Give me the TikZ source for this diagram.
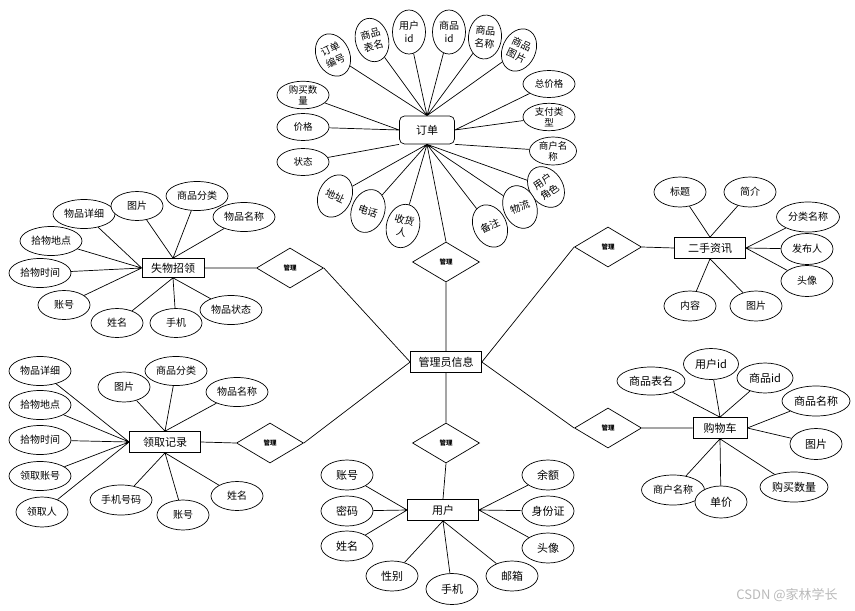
\documentclass[tikz,border=0pt]{standalone}
\usepackage{fontspec}
\setmainfont{Noto Sans CJK SC}
\usetikzlibrary{shapes.geometric}

\begin{document}
\begin{tikzpicture}[x=1pt,y=-1pt,line width=0.7pt,
  ent/.style={draw,rectangle,minimum width=71pt,minimum height=21pt,inner sep=0pt,fill=white,font=\fontsize{11}{13}\selectfont},
  attr/.style={draw,ellipse,minimum width=62pt,minimum height=29pt,inner sep=0pt,fill=white,font=\fontsize{10}{12}\selectfont},
  attrsm/.style={attr,minimum width=52pt},
  attrbig/.style={attr,minimum width=52pt,minimum height=30pt,font=\fontsize{11}{13}\selectfont},
  attrord/.style={attr,minimum width=52pt,minimum height=27pt,align=center,font=\fontsize{9.5}{11}\selectfont},
  attrrot/.style={attr,minimum width=33pt,minimum height=44pt,align=center,font=\fontsize{10}{12.5}\selectfont},
  rel/.style={draw,diamond,minimum width=67pt,minimum height=40pt,inner sep=0pt,fill=white,font=\fontsize{6.5}{7}\selectfont\bfseries}]
\useasboundingbox (0,0) rectangle (855,611);

% entities
\node[ent,rounded corners=5pt,minimum width=55pt,minimum height=28pt] (dd) at (427,130) {订单};
\node[ent] (gly) at (446,362) {管理员信息};
\node[ent] (yh) at (443,510) {用户};
\node[ent,minimum width=62pt,minimum height=19pt] (sw) at (173,268) {失物招领};
\node[ent] (lq) at (165,442) {领取记录};
\node[ent] (es) at (710,248) {二手资讯};
\node[ent,minimum width=54pt] (gw) at (720,428) {购物车};

% relations
\node[rel] (m1) at (446,262) {管理};
\node[rel] (m2) at (290,268) {管理};
\node[rel] (m3) at (270,443) {管理};
\node[rel] (m4) at (608,247) {管理};
\node[rel] (m5) at (608,428) {管理};
\node[rel] (m6) at (446,443) {管理};

\draw (dd.south) -- (m1.north) (m1.south) -- (gly.north);
\draw (gly.south) -- (m6.north) (m6.south) -- (yh.north);
\draw (sw.east) -- (m2.west) (m2.east) -- (gly.west);
\draw (lq.east) -- (m3.west) (m3.east) -- (gly.west);
\draw (gly.east) -- (m4.west) (m4.east) -- (es.west);
\draw (gly.east) -- (m5.west) (m5.east) -- (gw.west);

% 订单
\node[attrrot,rotate=25] (dd1) at (333,55) {订单\\编号};
\node[attrrot,rotate=15] (dd2) at (372,40) {商品\\表名};
\node[attrrot] (dd3) at (409,32) {用户\\id};
\node[attrrot] (dd4) at (449,32) {商品\\id};
\node[attrrot,rotate=-5] (dd5) at (485,37) {商品\\名称};
\node[attrrot,rotate=-25] (dd6) at (519,50) {商品\\图片};
\node[attrord] (dd7) at (549,84) {总价格};
\node[attrord] (dd8) at (549,117) {支付类\\型};
\node[attrord,minimum width=47pt] (dd9) at (553,151) {商户名\\称};
\node[attrrot,rotate=35] (dd10) at (546,187) {用户\\角色};
\node[attrrot,rotate=22] (dd11) at (520,207) {物流};
\node[attrrot,rotate=25] (dd12) at (490,226) {备注};
\node[attrrot,rotate=-15] (dd13) at (403,226) {收货\\人};
\node[attrrot,rotate=-20] (dd14) at (368,211) {电话};
\node[attrrot,rotate=-25] (dd15) at (335,196) {地址};
\node[attrord] (dd16) at (303,162) {状态};
\node[attrord] (dd17) at (303,127) {价格};
\node[attrord] (dd18) at (303,95) {购买数\\量};

\draw (dd1) -- (dd.north) (dd2) -- (dd.north) (dd3) -- (dd.north)
      (dd4) -- (dd.north) (dd5) -- (dd.north) (dd6) -- (dd.north);
\draw (dd7) -- (dd.east) (dd8) -- (dd.east) (dd9) -- (dd.south east);
\draw (dd10) -- (dd.south) (dd11) -- (dd.south) (dd12) -- (dd.south)
      (dd13) -- (dd.south) (dd14) -- (dd.south) (dd15) -- (dd.south);
\draw (dd16) -- (dd.south west) (dd17) -- (dd.west) (dd18) -- (dd.west);

% 失物招领
\node[attr] (sw1) at (84,214) {物品详细};
\node[attrsm] (sw2) at (137,206) {图片};
\node[attr] (sw3) at (197,196) {商品分类};
\node[attr] (sw4) at (244,217) {物品名称};
\node[attr] (sw5) at (51,241) {拾物地点};
\node[attr] (sw6) at (40,273) {拾物时间};
\node[attrsm] (sw7) at (64,305) {账号};
\node[attrsm] (sw8) at (117,323) {姓名};
\node[attrsm] (sw9) at (176,323) {手机};
\node[attr] (sw10) at (231,310) {物品状态};

\draw (sw2) -- (sw.north) (sw3) -- (sw.north) (sw4) -- (sw.north);
\draw (sw1) -- (sw.west) (sw5) -- (sw.west) (sw6) -- (sw.west) (sw7) -- (sw.west);
\draw (sw8) -- (sw.south) (sw9) -- (sw.south) (sw10) -- (sw.south);

% 领取记录
\node[attr] (lq1) at (40,371) {物品详细};
\node[attr] (lq2) at (40,405) {拾物地点};
\node[attr] (lq3) at (40,440) {拾物时间};
\node[attr] (lq4) at (40,476) {领取账号};
\node[attrsm,minimum height=30pt] (lq5) at (42,512) {领取人};
\node[attrsm,minimum height=30pt] (lq6) at (124,387) {图片};
\node[attr] (lq7) at (176,371) {商品分类};
\node[attr] (lq8) at (237,392) {物品名称};
\node[attr,minimum height=30pt] (lq9) at (121,500) {手机号码};
\node[attrsm,minimum height=30pt] (lq10) at (183,515) {账号};
\node[attrsm] (lq11) at (237,496) {姓名};

\draw (lq1) -- (lq.west) (lq2) -- (lq.west) (lq3) -- (lq.west)
      (lq4) -- (lq.west) (lq5) -- (lq.west);
\draw (lq6) -- (lq.north) (lq7) -- (lq.north) (lq8) -- (lq.north);
\draw (lq9) -- (lq.south) (lq10) -- (lq.south) (lq11) -- (lq.south);

% 二手资讯
\node[attrsm,minimum height=30pt] (es1) at (680,192) {标题};
\node[attrsm,minimum height=30pt] (es2) at (750,192) {简介};
\node[attr,minimum width=63pt,minimum height=30pt] (es3) at (808,217) {分类名称};
\node[attrsm,minimum height=31pt] (es4) at (807,249) {发布人};
\node[attrsm,minimum height=31pt] (es5) at (807,281) {头像};
\node[attrsm,minimum height=30pt] (es6) at (690,306) {内容};
\node[attrsm,minimum height=30pt] (es7) at (756,306) {图片};

\draw (es1) -- (es.north) (es2) -- (es.north);
\draw (es3) -- (es.east) (es4) -- (es.east) (es5) -- (es.east);
\draw (es6) -- (es.south) (es7) -- (es.south);

% 购物车
\node[attrbig,minimum width=68pt,minimum height=28pt] (gw1) at (651,381) {商品表名};
\node[attrbig,minimum width=55pt,minimum height=31pt] (gw2) at (711,364) {用户id};
\node[attrbig,minimum width=56pt] (gw3) at (765,378) {商品id};
\node[attrbig,minimum width=68pt] (gw4) at (816,401) {商品名称};
\node[attrbig,minimum height=31pt] (gw5) at (816,444) {图片};
\node[attrbig,minimum width=68pt] (gw6) at (794,487) {购买数量};
\node[attr,minimum width=63pt,minimum height=30pt] (gw7) at (673,490) {商户名称};
\node[attrbig,minimum height=32pt] (gw8) at (721,502) {单价};

\draw (gw1) -- (gw.north) (gw2) -- (gw.north) (gw3) -- (gw.north);
\draw (gw4) -- (gw.east) (gw5) -- (gw.east);
\draw (gw6) -- (gw.south) (gw7) -- (gw.south) (gw8) -- (gw.south);

% 用户
\node[attrbig] (yh1) at (347,475) {账号};
\node[attrbig] (yh2) at (347,511) {密码};
\node[attrbig] (yh3) at (347,546) {姓名};
\node[attrbig] (yh4) at (392,576) {性别};
\node[attrbig,minimum height=31pt] (yh5) at (452,589) {手机};
\node[attrbig] (yh6) at (512,576) {邮箱};
\node[attrbig] (yh7) at (548,475) {余额};
\node[attrbig] (yh8) at (548,511) {身份证};
\node[attrbig] (yh9) at (548,548) {头像};

\draw (yh1) -- (yh.west) (yh2) -- (yh.west) (yh3) -- (yh.west);
\draw (yh4) -- (yh.south) (yh5) -- (yh.south) (yh6) -- (yh.south);
\draw (yh7) -- (yh.east) (yh8) -- (yh.east) (yh9) -- (yh.east);

\node[text=gray!55,font=\fontsize{13}{15}\selectfont] (wm) at (787,595) {CSDN @家林学长};
\end{tikzpicture}
\end{document}
